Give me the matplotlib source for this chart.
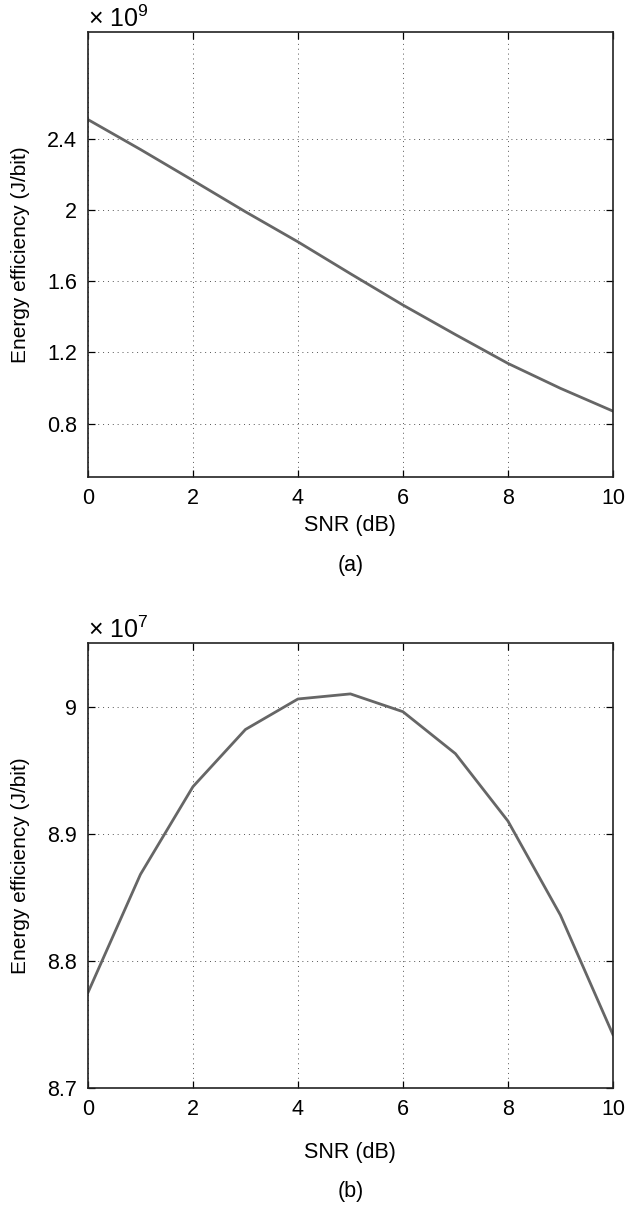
import matplotlib
matplotlib.use('Agg')
import matplotlib.pyplot as plt
from matplotlib.ticker import FuncFormatter

plt.rcParams['font.family'] = ['Liberation Sans', 'DejaVu Sans']
plt.rcParams['mathtext.fontset'] = 'custom'
plt.rcParams['mathtext.rm'] = 'Liberation Sans'
plt.rcParams['mathtext.it'] = 'Liberation Sans'

# SNR in dB
snr = [0, 1, 2, 3, 4, 5, 6, 7, 8, 9, 10]

# (a) energy efficiency, J/bit
ee_a = [2.508e9, 2.340e9, 2.166e9, 1.990e9, 1.821e9, 1.642e9,
        1.466e9, 1.300e9, 1.138e9, 0.998e9, 0.870e9]

# (b) energy efficiency, J/bit
ee_b = [8.775e7, 8.868e7, 8.937e7, 8.982e7, 9.006e7, 9.010e7,
        8.996e7, 8.963e7, 8.910e7, 8.836e7, 8.742e7]

x_ticks = [0, 2, 4, 6, 8, 10]
a_ticks = [0.8e9, 1.2e9, 1.6e9, 2.0e9, 2.4e9]
b_ticks = [8.7e7, 8.8e7, 8.9e7, 9.0e7]

line_col = '#666666'
fs = 15.5

fig = plt.figure(figsize=(6.28, 12.06), dpi=100)
ax1 = fig.add_axes([0.140, 0.6045, 0.836, 0.369])
ax2 = fig.add_axes([0.140, 0.0978, 0.836, 0.369])


def style(ax, yticks, scale, ylim):
    ax.set_xlim(0, 10)
    ax.set_ylim(*ylim)
    ax.set_xticks(x_ticks)
    ax.set_yticks(yticks)
    ax.yaxis.set_major_formatter(
        FuncFormatter(lambda v, p: '%g' % round(v / scale, 1)))
    ax.tick_params(direction='in', length=5, width=0.9, top=True, right=True,
                   labelsize=fs, pad=8)
    ax.grid(True, linestyle=(0, (1, 4)), color='#555555', linewidth=0.7)
    for s in ax.spines.values():
        s.set_linewidth(1.2)
        s.set_color('#222222')


ax1.plot(snr, ee_a, color=line_col, linewidth=2.0)
style(ax1, a_ticks, 1e9, (0.5e9, 3.0e9))
ax1.set_xlabel('SNR (dB)', fontsize=fs, labelpad=4)
ax1.set_ylabel('Energy efficiency (J/bit)', fontsize=15, labelpad=12)
ax1.text(0.0, 1.0, r'$\times\ 10^{9}$', transform=ax1.transAxes,
         fontsize=18, ha='left', va='bottom')
fig.text(0.558, 1 - 565 / 1206, '(a)', fontsize=fs, ha='center', va='center')

ax2.plot(snr, ee_b, color=line_col, linewidth=2.0)
style(ax2, b_ticks, 1e7, (8.7e7, 9.05e7))
ax2.set_xlabel('SNR (dB)', fontsize=fs, labelpad=16)
ax2.set_ylabel('Energy efficiency (J/bit)', fontsize=15, labelpad=12)
ax2.text(0.0, 1.0, r'$\times\ 10^{7}$', transform=ax2.transAxes,
         fontsize=18, ha='left', va='bottom')
fig.text(0.558, 1 - 1192 / 1206, '(b)', fontsize=fs, ha='center', va='center')

fig.savefig('out.png', dpi=100)
